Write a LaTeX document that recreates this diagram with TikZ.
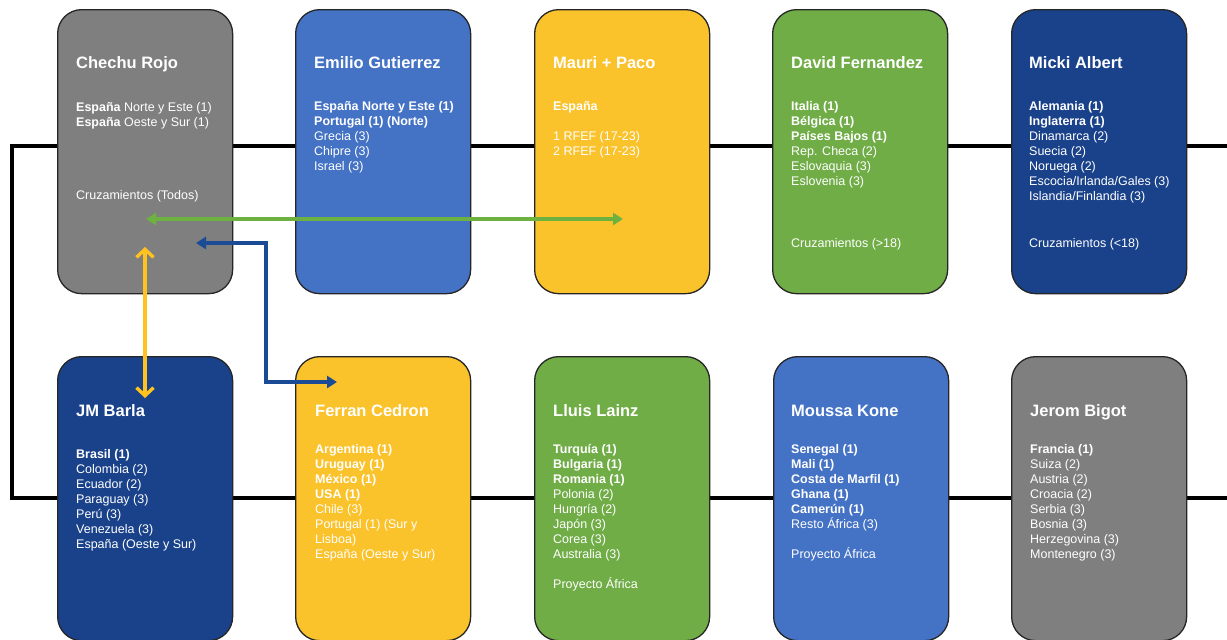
\documentclass[tikz,border=0pt]{standalone}
\usepackage{fontspec}
\setmainfont{Liberation Sans}
\usetikzlibrary{arrows.meta}
\definecolor{cgray}{HTML}{7F7F7F}
\definecolor{cblue}{HTML}{4472C4}
\definecolor{cyellow}{HTML}{FAC22B}
\definecolor{cgreen}{HTML}{70AD47}
\definecolor{cdark}{HTML}{1A428A}
\definecolor{agreen}{HTML}{6DB240}
\definecolor{ablue}{HTML}{1B4B94}
\definecolor{ayellow}{HTML}{FFC21F}
\newcommand\cardlines[1]{\parbox[t]{160pt}{\raggedright #1}}
\tikzset{
  card/.style={draw=black!85, line width=1.3pt, rounded corners=24pt, minimum width=175pt, minimum height=284pt, anchor=north west, inner sep=0pt},
  ttl/.style={anchor=base west, inner sep=0pt, text=white, font=\bfseries\fontsize{16.5}{18}\selectfont},
  bdy/.style={anchor=base west, inner sep=0pt, text=white, font=\fontsize{12.5}{15}\selectfont},
  spine/.style={line width=3.2pt, black, line join=miter},
  tarrow/.style={line width=3.4pt, {Triangle[length=10pt,width=12pt]}-{Triangle[length=10pt,width=12pt]}},
  barrow/.style={line width=3.4pt, ayellow, {Straight Barb[length=8pt,width=17pt,line width=3.4pt]}-{Straight Barb[length=8pt,width=17pt,line width=3.4pt]}}
}
\begin{document}
\begin{tikzpicture}[x=1pt,y=-1pt]
\useasboundingbox (0,0) rectangle (1227,640);
% spine
\coordinate (s1) at (1227,146);
\coordinate (s2) at (12,146);
\coordinate (s3) at (12,498);
\coordinate (s4) at (1227,498);
\draw[spine] (s1) -- (s2) -- (s3) -- (s4);
% top row cards
\node[card, fill=cgray] (c1) at (57,9) {};
\node[card, fill=cblue] (c2) at (295,9) {};
\node[card, fill=cyellow] (c3) at (534,9) {};
\node[card, fill=cgreen] (c4) at (772,9) {};
\node[card, fill=cdark] (c5) at (1011,9) {};
% bottom row cards
\node[card, fill=cdark] (d1) at (57,356) {};
\node[card, fill=cyellow] (d2) at (295,356) {};
\node[card, fill=cgreen] (d3) at (534,356) {};
\node[card, fill=cblue] (d4) at (773,356) {};
\node[card, fill=cgray] (d5) at (1011,356) {};
% titles
\node[ttl] (t1) at (76,68) {Chechu Rojo};
\node[ttl] (t2) at (314,68) {Emilio Gutierrez};
\node[ttl] (t3) at (553,68) {Mauri + Paco};
\node[ttl] (t4) at (791,68) {David Fernandez};
\node[ttl] (t5) at (1029,68) {Micki Albert};
\node[ttl] (u1) at (76,416) {JM Barla};
\node[ttl] (u2) at (315,416) {Ferran Cedron};
\node[ttl] (u3) at (553,416) {Lluis Lainz};
\node[ttl] (u4) at (791,416) {Moussa Kone};
\node[ttl] (u5) at (1030,416) {Jerom Bigot};
% bodies top
\node[bdy] (b1) at (76,111) {\cardlines{\textbf{España} Norte y Este (1)\\\textbf{España} Oeste y Sur (1)}};
\node[bdy] (x1) at (76,199) {Cruzamientos (Todos)};
\node[bdy] (b2) at (314,110) {\cardlines{\textbf{España Norte y Este (1)}\\\textbf{Portugal (1) (Norte)}\\Grecia (3)\\Chipre (3)\\Israel (3)}};
\node[bdy] (b3) at (553,110) {\cardlines{\textbf{España}\\[15pt]1 RFEF (17-23)\\2 RFEF (17-23)}};
\node[bdy] (b4) at (791,110) {\cardlines{\textbf{Italia (1)}\\\textbf{Bélgica (1)}\\\textbf{Países Bajos (1)}\\Rep. Checa (2)\\Eslovaquia (3)\\Eslovenia (3)}};
\node[bdy] (x4) at (791,247) {Cruzamientos (>18)};
\node[bdy] (b5) at (1029,110) {\cardlines{\textbf{Alemania (1)}\\\textbf{Inglaterra (1)}\\Dinamarca (2)\\Suecia (2)\\Noruega (2)\\Escocia/Irlanda/Gales (3)\\Islandia/Finlandia (3)}};
\node[bdy] (x5) at (1029,247) {Cruzamientos (<18)};
% bodies bottom
\node[bdy] (e1) at (76,458) {\cardlines{\textbf{Brasil (1)}\\Colombia (2)\\Ecuador (2)\\Paraguay (3)\\Perú (3)\\Venezuela (3)\\España (Oeste y Sur)}};
\node[bdy] (e2) at (315,453) {\cardlines{\textbf{Argentina (1)}\\\textbf{Uruguay (1)}\\\textbf{México (1)}\\\textbf{USA (1)}\\Chile (3)\\Portugal (1) (Sur y\\Lisboa)\\España (Oeste y Sur)}};
\node[bdy] (e3) at (553,453) {\cardlines{\textbf{Turquía (1)}\\\textbf{Bulgaria (1)}\\\textbf{Romania (1)}\\Polonia (2)\\Hungría (2)\\Japón (3)\\Corea (3)\\Australia (3)\\[15pt]Proyecto África}};
\node[bdy] (e4) at (791,453) {\cardlines{\textbf{Senegal (1)}\\\textbf{Mali (1)}\\\textbf{Costa de Marfil (1)}\\\textbf{Ghana (1)}\\\textbf{Camerún (1)}\\Resto África (3)\\[15pt]Proyecto África}};
\node[bdy] (e5) at (1030,453) {\cardlines{\textbf{Francia (1)}\\Suiza (2)\\Austria (2)\\Croacia (2)\\Serbia (3)\\Bosnia (3)\\Herzegovina (3)\\Montenegro (3)}};
% arrows
\coordinate (g1) at (146,219);
\coordinate (g2) at (623,219);
\draw[tarrow, agreen] (g1) -- (g2);
\coordinate (h1) at (196,243);
\coordinate (h2) at (266,243);
\coordinate (h3) at (266,382);
\coordinate (h4) at (337,382);
\draw[tarrow, ablue] (h1) -- (h2) -- (h3) -- (h4);
\coordinate (y1) at (145,247);
\coordinate (y2) at (145,398);
\draw[barrow] (y1) -- (y2);
\end{tikzpicture}
\end{document}
